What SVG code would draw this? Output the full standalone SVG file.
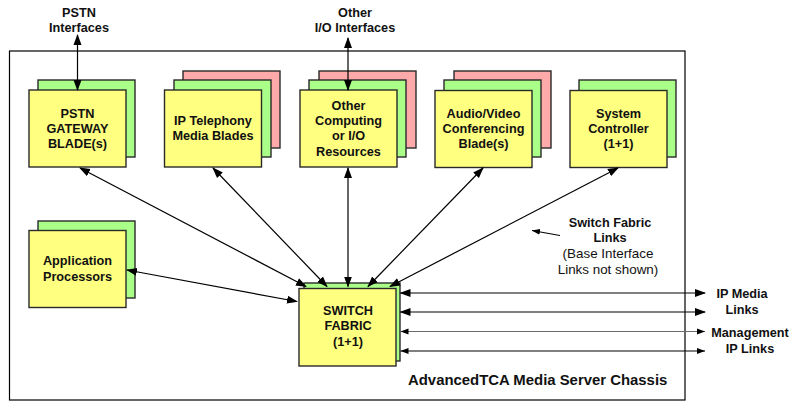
<svg xmlns="http://www.w3.org/2000/svg" width="795" height="407" viewBox="0 0 795 407">
<defs>
<marker id="ah" markerUnits="userSpaceOnUse" markerWidth="12" markerHeight="10" refX="10" refY="4" orient="auto-start-reverse" viewBox="0 0 12 8">
<path d="M0,0 L11,4 L0,8 Z" fill="#000"/>
</marker>
<marker id="as" markerUnits="userSpaceOnUse" markerWidth="9" markerHeight="7" refX="8" refY="3" orient="auto-start-reverse" viewBox="0 0 9 6">
<path d="M0,0 L8,3 L0,6 Z" fill="#000"/>
</marker>
<style>
.y{fill:#FFFF80;stroke:#2a2a2a;stroke-width:1.4}
.g{fill:#AAFF88;stroke:#2a2a2a;stroke-width:1.4}
.r{fill:#FFAAAA;stroke:#2a2a2a;stroke-width:1.4}
.t{font-family:"Liberation Sans",Arial,sans-serif;font-weight:bold;font-size:12.7px;fill:#111;text-anchor:middle}
.n{font-family:"Liberation Sans",Arial,sans-serif;font-size:13.4px;fill:#111;text-anchor:middle}
.c{stroke:#000;stroke-width:1.2;fill:none}
</style>
</defs>
<rect width="795" height="407" fill="#fff"/>
<g id="chassis">
<rect x="9.5" y="51" width="675.5" height="349" fill="none" stroke="#000" stroke-width="1.2"/>
<text x="408" y="385" style="font-family:'Liberation Sans',Arial,sans-serif;font-weight:bold;font-size:14.9px;fill:#111">AdvancedTCA Media Server Chassis</text>
</g>
<g id="pstn">
<rect class="g" x="38" y="80" width="97" height="77"/>
<rect class="y" x="29" y="90" width="97" height="77"/>
<text class="t" x="77.5" y="118">PSTN</text>
<text class="t" x="77.5" y="133">GATEWAY</text>
<text class="t" x="77.5" y="148">BLADE(s)</text>
</g>
<g id="iptel">
<rect class="r" x="183" y="71" width="97" height="77"/>
<rect class="g" x="174" y="80" width="97" height="77"/>
<rect class="y" x="164.5" y="90" width="97" height="77"/>
<text class="t" x="213" y="125">IP Telephony</text>
<text class="t" x="213" y="140">Media Blades</text>
</g>
<g id="other">
<rect class="r" x="319" y="71" width="97" height="77"/>
<rect class="g" x="309" y="80" width="97" height="77"/>
<rect class="y" x="300" y="90" width="97" height="77"/>
<text class="t" x="348.5" y="110">Other</text>
<text class="t" x="348.5" y="125">Computing</text>
<text class="t" x="348.5" y="140">or I/O</text>
<text class="t" x="348.5" y="155.5">Resources</text>
</g>
<g id="av">
<rect class="r" x="454" y="71" width="97" height="77"/>
<rect class="g" x="444" y="80" width="97" height="77"/>
<rect class="y" x="435" y="90.5" width="97" height="77"/>
<text class="t" x="483.5" y="118">Audio/Video</text>
<text class="t" x="483.5" y="133">Conferencing</text>
<text class="t" x="483.5" y="148">Blade(s)</text>
</g>
<g id="sysctl">
<rect class="g" x="579" y="80" width="97" height="77"/>
<rect class="y" x="570" y="90.5" width="97" height="77"/>
<text class="t" x="618.5" y="118">System</text>
<text class="t" x="618.5" y="133">Controller</text>
<text class="t" x="618.5" y="148">(1+1)</text>
</g>
<g id="app">
<rect class="g" x="38" y="221" width="97" height="77"/>
<rect class="y" x="29" y="230.5" width="97" height="77"/>
<text class="t" x="77.5" y="265">Application</text>
<text class="t" x="77.5" y="281">Processors</text>
</g>
<g id="switch">
<rect class="g" x="304" y="283" width="96" height="78"/>
<rect class="y" x="299" y="288.5" width="97" height="77.5"/>
<text class="t" x="348" y="315">SWITCH</text>
<text class="t" x="348" y="330">FABRIC</text>
<text class="t" x="348" y="346">(1+1)</text>
</g>
<g id="labels">
<text class="t" x="79" y="17">PSTN</text>
<text class="t" x="79" y="32">Interfaces</text>
<text class="t" x="355" y="17">Other</text>
<text class="t" x="355" y="32">I/O Interfaces</text>
<text class="t" x="610" y="226.5">Switch Fabric</text>
<text class="t" x="610" y="242">Links</text>
<text class="n" x="608" y="258">(Base Interface</text>
<text class="n" x="608" y="274">Links not shown)</text>
<text class="t" x="742" y="298">IP Media</text>
<text class="t" x="742" y="314">Links</text>
<text class="t" x="750" y="337">Management</text>
<text class="t" x="750" y="353">IP Links</text>
</g>
<g id="connectors">
<line class="c" x1="77.5" y1="35" x2="77.5" y2="90" marker-start="url(#ah)" marker-end="url(#ah)"/>
<line class="c" x1="348" y1="38" x2="348" y2="90" marker-start="url(#ah)" marker-end="url(#ah)"/>
<line class="c" x1="80" y1="168" x2="306" y2="286.5" marker-start="url(#ah)" marker-end="url(#ah)"/>
<line class="c" x1="213" y1="168" x2="327" y2="286.5" marker-start="url(#ah)" marker-end="url(#ah)"/>
<line class="c" x1="348" y1="168" x2="348" y2="286.5" marker-start="url(#ah)" marker-end="url(#ah)"/>
<line class="c" x1="483" y1="168" x2="368" y2="286.5" marker-start="url(#ah)" marker-end="url(#ah)"/>
<line class="c" x1="618" y1="168" x2="390" y2="286.5" marker-start="url(#ah)" marker-end="url(#ah)"/>
<line class="c" x1="127" y1="270" x2="297" y2="301.5" marker-start="url(#ah)" marker-end="url(#ah)"/>
<line class="c" x1="560" y1="235.5" x2="532" y2="230.5" marker-end="url(#as)"/>
<line class="c" x1="400.5" y1="293" x2="705" y2="293" marker-start="url(#ah)" marker-end="url(#ah)"/>
<line class="c" x1="400.5" y1="312" x2="705" y2="312" marker-start="url(#ah)" marker-end="url(#ah)"/>
<line class="c" x1="400.5" y1="331.5" x2="705" y2="331.5" stroke="#666" style="stroke:#6a6a6a" marker-start="url(#as)" marker-end="url(#as)"/>
<line class="c" x1="400.5" y1="351" x2="705" y2="351" marker-start="url(#as)" marker-end="url(#as)"/>
</g>
</svg>
